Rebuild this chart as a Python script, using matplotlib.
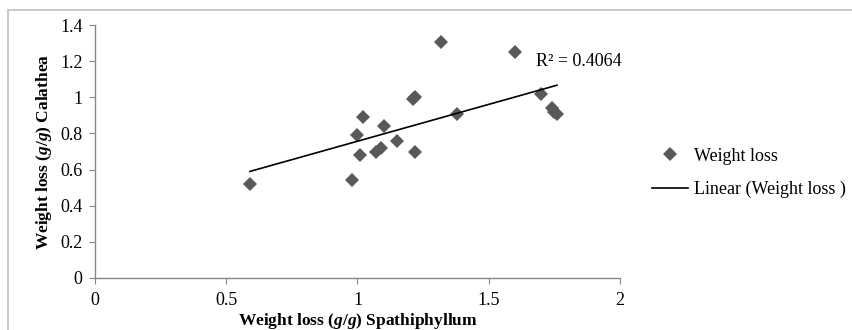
import numpy as np
import matplotlib
matplotlib.use("Agg")
import matplotlib.pyplot as plt
from matplotlib.lines import Line2D
from matplotlib.patches import Rectangle

# weight loss (g/g)
spathiphyllum = [0.59, 0.98, 1.00, 1.01, 1.02, 1.07, 1.09, 1.10, 1.15, 1.21,
                 1.22, 1.22, 1.32, 1.38, 1.60, 1.70, 1.74, 1.75, 1.76]
calathea = [0.52, 0.54, 0.79, 0.68, 0.89, 0.70, 0.72, 0.84, 0.76, 0.99,
            1.00, 0.70, 1.31, 0.91, 1.25, 1.02, 0.94, 0.92, 0.91]
x_ticks = [0, 0.5, 1, 1.5, 2]
x_tick_labels = ["0", "0.5", "1", "1.5", "2"]
y_ticks = [0, 0.2, 0.4, 0.6, 0.8, 1.0, 1.2, 1.4]
y_tick_labels = ["0", "0.2", "0.4", "0.6", "0.8", "1", "1.2", "1.4"]
r2_label = "R² = 0.4064"

plt.rcParams["font.family"] = ["Liberation Serif", "DejaVu Serif"]
plt.rcParams["font.size"] = 13
plt.rcParams["mathtext.fontset"] = "custom"
plt.rcParams["mathtext.it"] = "Liberation Serif:italic:bold"
plt.rcParams["mathtext.rm"] = "Liberation Serif:bold"

W, H = 853, 330
fig = plt.figure(figsize=(W / 100, H / 100), dpi=100)
ax = fig.add_axes([95 / W, 1 - 277.7 / H, (620 - 95) / W, (277.7 - 25.3) / H])

# outer chart border (only top and left visible in the crop)
fig.patches.append(Rectangle((8 / W, -0.1), 1.2, (H - 10) / H + 0.1,
                             transform=fig.transFigure, fill=False,
                             edgecolor="#bfbfbf", linewidth=1.2))

marker_color = "#595959"
ax.plot(spathiphyllum, calathea, linestyle="none", marker="D", markersize=7.5,
        color=marker_color, markeredgewidth=0)

xs = np.array(spathiphyllum)
slope, intercept = np.polyfit(xs, np.array(calathea), 1)
xl = np.array([xs.min(), xs.max()])
ax.plot(xl, slope * xl + intercept, color="black", linewidth=1.2)

ax.text(1.68, 1.20, r2_label, fontsize=13, va="center", ha="left")

ax.set_xlim(0, 2)
ax.set_ylim(0, 1.4)
ax.set_xticks(x_ticks)
ax.set_xticklabels(x_tick_labels)
ax.set_yticks(y_ticks)
ax.set_yticklabels(y_tick_labels)

for side in ["top", "right"]:
    ax.spines[side].set_visible(False)
for side in ["left", "bottom"]:
    ax.spines[side].set_color("#868686")
    ax.spines[side].set_linewidth(1.0)
ax.tick_params(axis="both", direction="out", length=4, color="#868686",
               labelsize=13)
ax.tick_params(axis="x", pad=6)
ax.tick_params(axis="y", pad=5)

ax.set_xlabel("Weight loss ($g/g$) Spathiphyllum", fontsize=12.5, fontweight="bold",
              labelpad=2)
ax.set_ylabel("Weight loss ($g/g$) Calathea", fontsize=12.5, fontweight="bold",
              labelpad=4)

handles = [
    Line2D([], [], linestyle="none", marker="D", markersize=7.5, color=marker_color,
           markeredgewidth=0),
    Line2D([], [], color="black", linewidth=1.2),
]
fig.legend(handles, ["Weight loss", "Linear (Weight loss )"],
           loc="center left", bbox_to_anchor=(643 / W, 1 - 173 / H),
           frameon=False, fontsize=13, handlelength=2.0, handletextpad=0.3,
           labelspacing=0.9, borderpad=0)

fig.savefig("out.png", dpi=100)
